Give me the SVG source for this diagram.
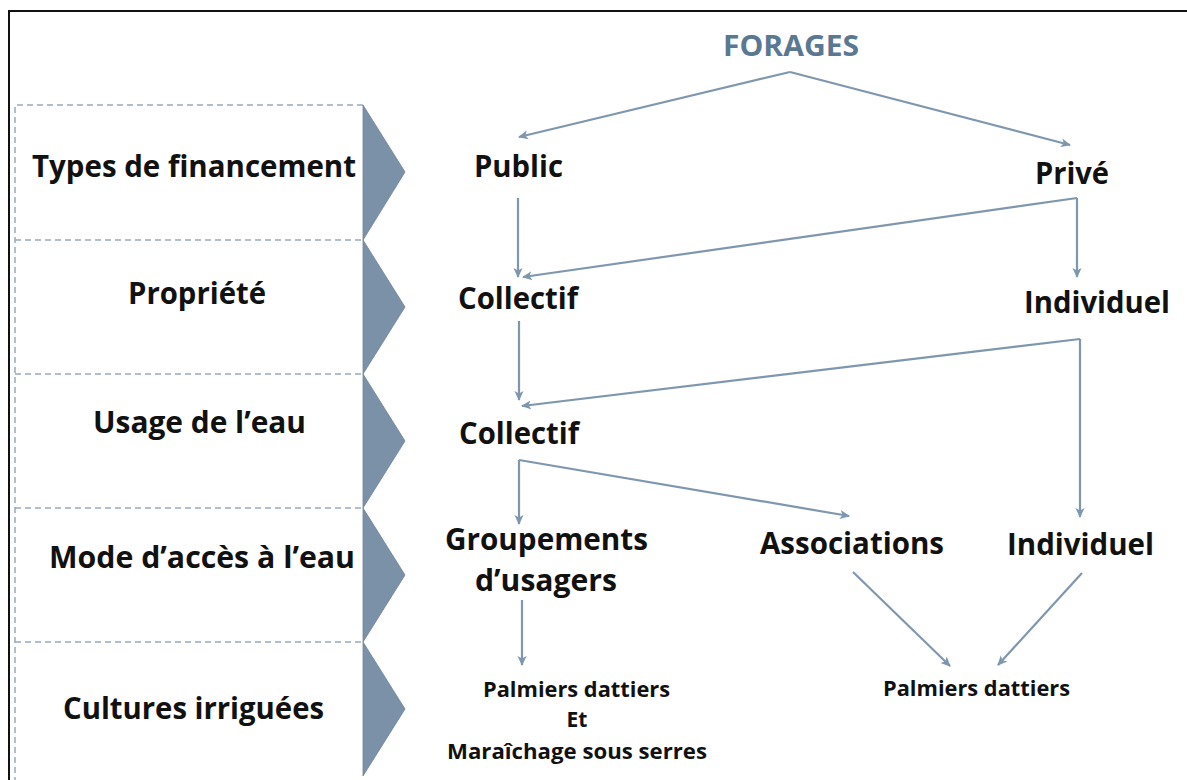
<svg xmlns="http://www.w3.org/2000/svg" width="1187" height="780" viewBox="0 0 1187 780">
<style>
  .lbl { font-family: "Open Sans", "Liberation Sans", sans-serif; font-weight: 700; font-size: 30px; fill: #111111; }
  .small { font-family: "Open Sans", "Liberation Sans", sans-serif; font-weight: 700; font-size: 21px; fill: #111111; }
  .title { font-family: "Open Sans", "Liberation Sans", sans-serif; font-weight: 700; font-size: 29px; fill: #5b7893; }
  .dash { fill: none; stroke: #98aabd; stroke-width: 1.5; stroke-dasharray: 6 4; }
  .chev { fill: #7a91a7; stroke: #6d8499; stroke-width: 0.8; }
  .conn line { stroke: #7f97ae; stroke-width: 2.2; marker-end: url(#ah); }
</style>
<defs>
  <marker id="ah" viewBox="0 0 10 10" refX="9" refY="5" markerWidth="10" markerHeight="10" markerUnits="userSpaceOnUse" orient="auto">
    <path d="M0,0.5 L10,5 L0,9.5 L2.5,5 z" fill="#7f97ae"/>
  </marker>
</defs>
<rect x="0" y="0" width="1187" height="780" fill="#ffffff"/>
<!-- outer frame -->
<path d="M9,780 L9,11 L1187,11" fill="none" stroke="#111111" stroke-width="2"/>

<!-- left category panel -->
<g id="categories">
  <path class="dash" d="M363,105 L15,105 L15,780"/>
  <line class="dash" x1="15" y1="240" x2="363" y2="240"/>
  <line class="dash" x1="15" y1="374" x2="363" y2="374"/>
  <line class="dash" x1="15" y1="508" x2="363" y2="508"/>
  <line class="dash" x1="15" y1="642" x2="363" y2="642"/>
  <polygon class="chev" points="363,105 405,172 363,240"/>
  <polygon class="chev" points="363,240 405,307 363,374"/>
  <polygon class="chev" points="363,374 405,441 363,508"/>
  <polygon class="chev" points="363,508 405,575 363,642"/>
  <polygon class="chev" points="363,642 405,709 363,776"/>
</g>
<g id="cat-financement"><text class="lbl" x="32" y="177" textLength="324" lengthAdjust="spacingAndGlyphs">Types de financement</text></g>
<g id="cat-propriete"><text class="lbl" x="128" y="304" textLength="138" lengthAdjust="spacingAndGlyphs">Propriété</text></g>
<g id="cat-usage"><text class="lbl" x="93" y="433" textLength="213" lengthAdjust="spacingAndGlyphs">Usage de l’eau</text></g>
<g id="cat-acces"><text class="lbl" x="49" y="568" textLength="306" lengthAdjust="spacingAndGlyphs">Mode d’accès à l’eau</text></g>
<g id="cat-cultures"><text class="lbl" x="63" y="719" textLength="261" lengthAdjust="spacingAndGlyphs">Cultures irriguées</text></g>

<!-- connectors -->
<g id="connectors" class="conn">
  <line x1="790" y1="72" x2="519" y2="137"/>
  <line x1="790" y1="72" x2="1070" y2="145"/>
  <line x1="518" y1="198" x2="518" y2="277"/>
  <line x1="1077" y1="198" x2="523" y2="277"/>
  <line x1="1077" y1="198" x2="1077" y2="277"/>
  <line x1="519" y1="321" x2="519" y2="400"/>
  <line x1="1080" y1="339" x2="522" y2="406"/>
  <line x1="1080" y1="339" x2="1080" y2="517"/>
  <line x1="519" y1="460" x2="519" y2="524"/>
  <line x1="519" y1="460" x2="849" y2="516"/>
  <line x1="522" y1="600" x2="522" y2="665"/>
  <line x1="853" y1="572" x2="950" y2="666"/>
  <line x1="1082" y1="573" x2="998" y2="665"/>
</g>

<!-- nodes -->
<g id="forages"><text class="title" x="723" y="56" textLength="136" lengthAdjust="spacingAndGlyphs">FORAGES</text></g>
<g id="public"><text class="lbl" x="474" y="177" textLength="89" lengthAdjust="spacingAndGlyphs">Public</text></g>
<g id="prive"><text class="lbl" x="1035" y="184" textLength="74" lengthAdjust="spacingAndGlyphs">Privé</text></g>
<g id="prop-collectif"><text class="lbl" x="458" y="309" textLength="120" lengthAdjust="spacingAndGlyphs">Collectif</text></g>
<g id="prop-individuel"><text class="lbl" x="1024" y="313" textLength="146" lengthAdjust="spacingAndGlyphs">Individuel</text></g>
<g id="usage-collectif"><text class="lbl" x="459" y="444" textLength="120" lengthAdjust="spacingAndGlyphs">Collectif</text></g>
<g id="groupements">
  <text class="lbl" x="445" y="550" textLength="203" lengthAdjust="spacingAndGlyphs">Groupements</text>
  <text class="lbl" x="475" y="591" textLength="142" lengthAdjust="spacingAndGlyphs">d’usagers</text>
</g>
<g id="associations"><text class="lbl" x="760" y="554" textLength="184" lengthAdjust="spacingAndGlyphs">Associations</text></g>
<g id="acces-individuel"><text class="lbl" x="1007" y="555" textLength="147" lengthAdjust="spacingAndGlyphs">Individuel</text></g>
<g id="cultures-collectif">
  <text class="small" x="483" y="697" textLength="187" lengthAdjust="spacingAndGlyphs">Palmiers dattiers</text>
  <text class="small" x="577" y="727" text-anchor="middle">Et</text>
  <text class="small" x="447" y="759" textLength="260" lengthAdjust="spacingAndGlyphs">Maraîchage sous serres</text>
</g>
<g id="cultures-associations"><text class="small" x="883" y="696" textLength="187" lengthAdjust="spacingAndGlyphs">Palmiers dattiers</text></g>
</svg>
